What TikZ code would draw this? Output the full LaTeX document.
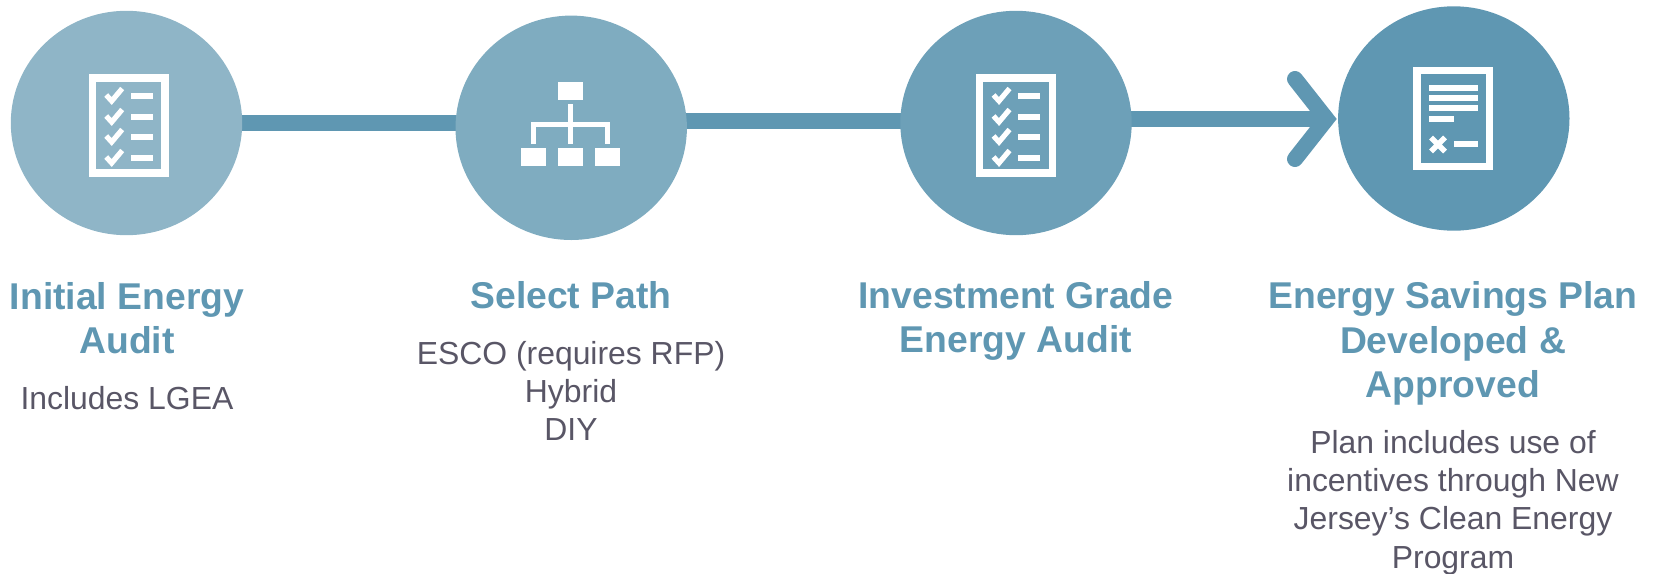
\documentclass[tikz,border=0pt]{standalone}
\usepackage{fontspec}
\setmainfont{Liberation Sans}
\usetikzlibrary{shapes.geometric,backgrounds}
\definecolor{tealc}{HTML}{5F97B2}
\definecolor{circa}{HTML}{8FB5C7}
\definecolor{circb}{HTML}{7FACC0}
\definecolor{circc}{HTML}{6DA0B8}
\definecolor{bodyc}{HTML}{595666}
\tikzset{
  x=1pt,y=-1pt,
  stagecircle/.style={ellipse,minimum width=231.4pt,minimum height=224.4pt,inner sep=0pt,outer sep=0pt},
  headtext/.style={align=center,text=tealc,font=\fontsize{37.3}{44.5}\selectfont\bfseries,inner sep=0pt},
  bodytext/.style={align=center,text=bodyc,font=\fontsize{31.9}{38.4}\selectfont,inner sep=0pt},
  linkline/.style={draw=tealc,line width=16pt},
  frameline/.style={draw=white,line width=7.5pt},
  checkmark/.pic={\draw[white,line width=5.2pt,miter limit=10] (-22.5,-1) -- (-17,5) -- (-6.5,-7.5);},
  checklist/.pic={
    \draw[frameline] (-36.3,-47.7) rectangle (36.3,47.7);
    \foreach \yy in {-29.5,-8.5,11.5,32.5}{
      \pic at (0,\yy) {checkmark};
      \fill[white] (2.3,\yy-3) rectangle (24.3,\yy+3);
    }
  }
}
\begin{document}
\begin{tikzpicture}
\useasboundingbox (0,0) rectangle (1657,573);
\node[stagecircle,fill=circa] (c1) at (126.5,123) {};
\node[stagecircle,fill=circb] (c2) at (571.2,127.8) {};
\node[stagecircle,fill=circc] (c3) at (1016,123) {};
\node[stagecircle,fill=tealc] (c4) at (1453.8,118.5) {};
\coordinate (m1) at (126.5,122.5);
\coordinate (m2) at (571.2,120.7);
\coordinate (m3) at (1016,119.3);
\coordinate (tipa) at (1326.5,119);
\coordinate (tipb) at (1295,79);
\coordinate (tipc) at (1295,159);
\begin{pgfonlayer}{background}
\draw[linkline] (m1) -- (m1 -| c2.center);
\draw[linkline] (m2) -- (m2 -| c3.center);
\draw[linkline] (m3) -- (m3 -| tipa);
\draw[linkline,line cap=round,line join=miter] (tipb) -- (tipa) -- (tipc);
\end{pgfonlayer}
\pic at (128.7,125.5) {checklist};
\pic at (1016,125.5) {checklist};
% hierarchy icon
\fill[white] (558,82) rectangle (583,100);
\fill[white] (568,104.3) rectangle (573,144);
\fill[white] (531,122) rectangle (610,127);
\fill[white] (531,122) rectangle (536,144);
\fill[white] (605,122) rectangle (610,144);
\fill[white] (521,148) rectangle (546,166);
\fill[white] (558,148) rectangle (583,166);
\fill[white] (595,148) rectangle (620,166);
% plan icon
\draw[frameline] (1417.2,70.7) rectangle (1489.6,166.3);
\fill[white] (1429,85) rectangle (1478,91);
\fill[white] (1429,95) rectangle (1478,101);
\fill[white] (1429,105) rectangle (1478,111);
\fill[white] (1429,116) rectangle (1454,122);
\fill[white] (1454,141) rectangle (1478,147);
\draw[white,line width=5.5pt] (1431,137.5) -- (1445,151.5) (1445,137.5) -- (1431,151.5);
% texts
\node[headtext] (h1) at (127,318) {Initial Energy\\Audit};
\node[bodytext] (b1) at (127,398) {Includes LGEA};
\node[headtext] (h2) at (571,295) {Select Path};
\node[bodytext] (b2) at (571,391) {ESCO (requires RFP)\\Hybrid\\DIY};
\node[headtext] (h3) at (1016,321) {Investment Grade\\Energy Audit};
\node[headtext] (h4) at (1453,343.5) {Energy Savings Plan\\Developed \&\\Approved};
\node[bodytext] (b4) at (1453,502.5) {Plan includes use of\\incentives through New\\Jersey’s Clean Energy\\Program};
\end{tikzpicture}
\end{document}
